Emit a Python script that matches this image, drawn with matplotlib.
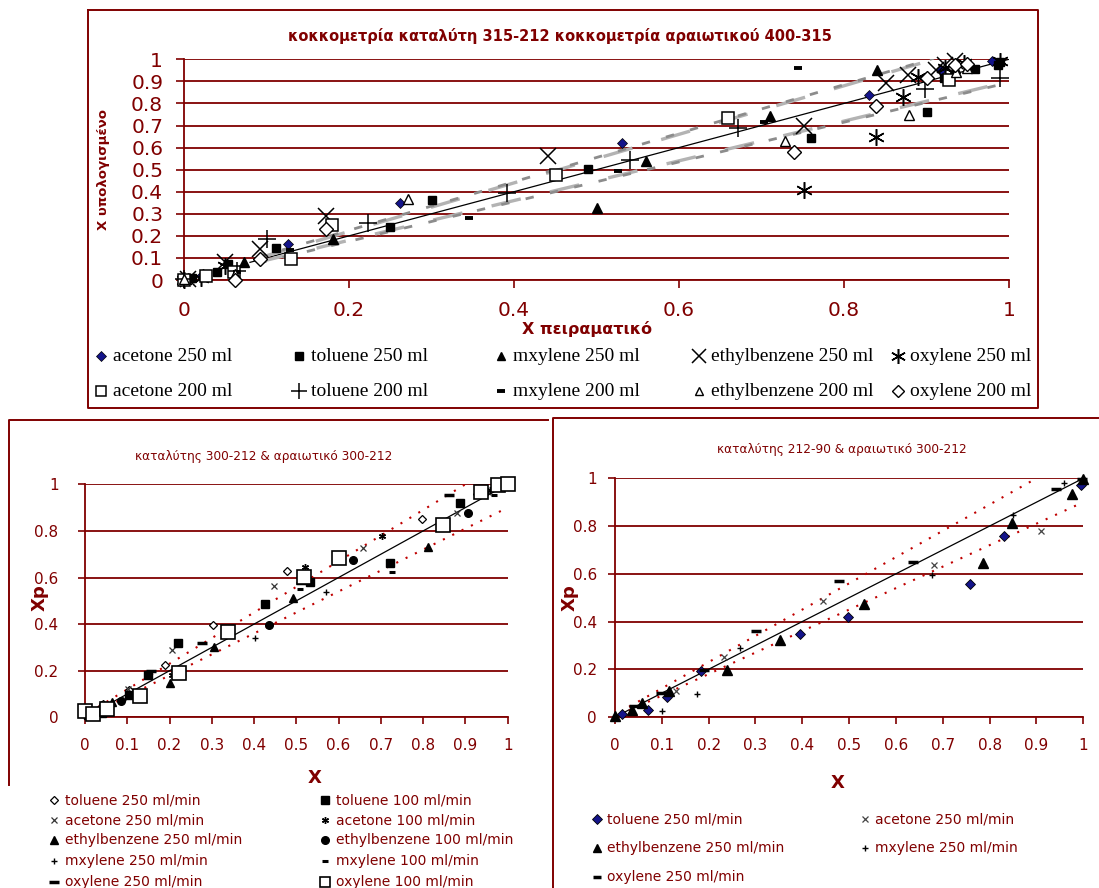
import matplotlib
matplotlib.use("Agg")
import matplotlib.pyplot as plt
import numpy as np

W, H = 1099, 888
DR = "#800000"
NAVY = "#14148a"

# ---------------- top panel: X experimental vs X calculated ----------------
top_labels = ["acetone 250 ml", "toluene 250 ml", "mxylene 250 ml",
              "ethylbenzene 250 ml", "oxylene 250 ml",
              "acetone 200 ml", "toluene 200 ml", "mxylene 200 ml",
              "ethylbenzene 200 ml", "oxylene 200 ml"]

ace250_x = [0.005, 0.02, 0.126, 0.262, 0.531, 0.830, 0.918, 0.979]
ace250_y = [0.01, 0.02, 0.162, 0.350, 0.621, 0.839, 0.952, 0.992]
tol250_x = [0.01, 0.04, 0.053, 0.112, 0.25, 0.301, 0.49, 0.76, 0.90, 0.921, 0.959, 0.987, 0.989]
tol250_y = [0.01, 0.035, 0.072, 0.147, 0.238, 0.362, 0.504, 0.644, 0.761, 0.914, 0.955, 0.974, 0.99]
mxy250_x = [0.023, 0.073, 0.18, 0.50, 0.56, 0.71, 0.84, 0.934]
mxy250_y = [0.027, 0.08, 0.185, 0.328, 0.541, 0.744, 0.950, 0.96]
eth250_x = [0.005, 0.05, 0.092, 0.172, 0.441, 0.752, 0.851, 0.878, 0.912, 0.923, 0.934]
eth250_y = [0.005, 0.08, 0.14, 0.29, 0.561, 0.70, 0.891, 0.929, 0.952, 0.974, 0.994]
oxy250_x = [0.0, 0.02, 0.05, 0.751, 0.839, 0.871, 0.89, 0.923, 0.945, 0.989]
oxy250_y = [0.0, 0.01, 0.065, 0.408, 0.65, 0.828, 0.92, 0.96, 0.982, 0.994]
ace200_x = [0.0, 0.027, 0.06, 0.13, 0.179, 0.451, 0.659, 0.927]
ace200_y = [0.0, 0.02, 0.035, 0.095, 0.248, 0.475, 0.736, 0.906]
tol200_x = [0.0, 0.064, 0.10, 0.223, 0.391, 0.54, 0.672, 0.898, 0.989]
tol200_y = [0.005, 0.042, 0.185, 0.26, 0.395, 0.543, 0.687, 0.864, 0.917]
mxy200_x = [0.064, 0.128, 0.345, 0.526, 0.703, 0.744]
mxy200_y = [0.035, 0.137, 0.283, 0.495, 0.717, 0.962]
eth200_x = [0.0, 0.062, 0.271, 0.729, 0.879, 0.936, 0.949]
eth200_y = [0.005, 0.027, 0.368, 0.631, 0.748, 0.944, 0.96]
oxy200_x = [0.062, 0.092, 0.172, 0.739, 0.839, 0.90, 0.934, 0.949]
oxy200_y = [0.0, 0.095, 0.23, 0.58, 0.79, 0.914, 0.974, 0.979]

# ---------------- bottom-left panel ----------------
bl_labels = ["toluene 250 ml/min", "acetone 250 ml/min", "ethylbenzene 250 ml/min",
             "mxylene 250 ml/min", "oxylene 250 ml/min",
             "toluene 100 ml/min", "acetone 100 ml/min", "ethylbenzene 100 ml/min",
             "mxylene 100 ml/min", "oxylene 100 ml/min"]

bl_tol250_x = [0.043, 0.105, 0.189, 0.302, 0.478, 0.797, 0.928]
bl_tol250_y = [0.057, 0.119, 0.226, 0.397, 0.626, 0.85, 0.959]
bl_ace250_x = [0.047, 0.101, 0.207, 0.446, 0.658, 0.879, 0.953]
bl_ace250_y = [0.05, 0.121, 0.289, 0.563, 0.728, 0.877, 0.966]
bl_eth250_x = [0.039, 0.064, 0.201, 0.305, 0.493, 0.811, 0.944]
bl_eth250_y = [0.051, 0.066, 0.147, 0.30, 0.511, 0.731, 0.976]
bl_mxy250_x = [0.014, 0.089, 0.402, 0.569]
bl_mxy250_y = [0.026, 0.076, 0.339, 0.537]
bl_oxy250_x = [0.155, 0.276, 0.512, 0.862]
bl_oxy250_y = [0.197, 0.32, 0.576, 0.954]
bl_tol100_x = [0.006, 0.04, 0.104, 0.149, 0.219, 0.226, 0.426, 0.532, 0.722, 0.887, 0.978, 0.998]
bl_tol100_y = [0.011, 0.02, 0.097, 0.18, 0.318, 0.186, 0.486, 0.582, 0.661, 0.918, 0.994, 1.0]
bl_ace100_x = [0.205, 0.52, 0.702, 0.957]
bl_ace100_y = [0.183, 0.647, 0.777, 0.976]
bl_eth100_x = [0.085, 0.105, 0.435, 0.633, 0.907, 0.982]
bl_eth100_y = [0.069, 0.097, 0.396, 0.675, 0.876, 0.994]
bl_mxy100_x = [0.509, 0.726, 0.968]
bl_mxy100_y = [0.549, 0.625, 0.954]
bl_oxy100_x = [0.0, 0.018, 0.051, 0.13, 0.222, 0.338, 0.519, 0.602, 0.848, 0.938, 0.976, 1.0]
bl_oxy100_y = [0.026, 0.014, 0.037, 0.09, 0.19, 0.365, 0.604, 0.682, 0.825, 0.966, 0.997, 1.0]

# ---------------- bottom-right panel ----------------
br_labels = ["toluene 250 ml/min", "acetone 250 ml/min", "ethylbenzene 250 ml/min",
             "mxylene 250 ml/min", "oxylene 250 ml/min"]

br_tol250_x = [0.015, 0.071, 0.111, 0.183, 0.394, 0.498, 0.759, 0.83, 0.996]
br_tol250_y = [0.014, 0.031, 0.084, 0.191, 0.349, 0.418, 0.557, 0.76, 0.972]
br_ace250_x = [0.131, 0.233, 0.444, 0.682, 0.909]
br_ace250_y = [0.11, 0.251, 0.487, 0.635, 0.781]
br_eth250_x = [0.0, 0.037, 0.058, 0.116, 0.24, 0.353, 0.532, 0.785, 0.848, 0.975, 1.0]
br_eth250_y = [0.003, 0.028, 0.059, 0.11, 0.195, 0.321, 0.474, 0.647, 0.812, 0.934, 0.997]
br_mxy250_x = [0.101, 0.175, 0.267, 0.676, 0.849, 0.958]
br_mxy250_y = [0.026, 0.096, 0.289, 0.595, 0.847, 0.982]
br_oxy250_x = [0.041, 0.099, 0.19, 0.302, 0.479, 0.637, 0.941, 0.997]
br_oxy250_y = [0.045, 0.10, 0.195, 0.362, 0.57, 0.648, 0.955, 0.997]

# reference lines: slope of the +/- bands
band_hi, band_lo = 1.1, 0.9


def fx(px):
    return px / W


def fy(py):
    return 1 - py / H


def axes_px(x0, x1, y1, y0):
    """axes from pixel corners: x at 0 and 1, y at 1 and 0"""
    return [fx(x0), fy(y0), (x1 - x0) / W, (y0 - y1) / H]


def style(ax, ystep, xstep, fs, tick_len):
    ax.set_xlim(0, 1)
    ax.set_ylim(0, 1)
    ax.set_facecolor("none")
    for s in ["top", "right"]:
        ax.spines[s].set_visible(False)
    for s in ["left", "bottom"]:
        ax.spines[s].set_color(DR)
        ax.spines[s].set_linewidth(1.3)
    yt = np.round(np.arange(0, 1.0001, ystep), 2)
    xt = np.round(np.arange(0, 1.0001, xstep), 2)
    ax.set_yticks(yt)
    ax.set_xticks(xt)
    ax.set_yticklabels([f"{v:g}" for v in yt])
    ax.set_xticklabels([f"{v:g}" for v in xt])
    ax.yaxis.grid(True, color=DR, lw=1.3)
    ax.set_axisbelow(True)
    ax.tick_params(axis="both", direction="out", length=tick_len, width=1.2,
                   color=DR, labelcolor=DR, labelsize=fs)


fig = plt.figure(figsize=(W / 100, H / 100), dpi=100)

# background overlay for frames, titles and legends
ov = fig.add_axes([0, 0, 1, 1], zorder=-1)
ov.set_xlim(0, W)
ov.set_ylim(H, 0)
ov.axis("off")
ov.plot([88, 1038, 1038, 88, 88], [10, 10, 408, 408, 10], color=DR, lw=1.4)
ov.plot([9, 9, 548], [785, 420, 420], color=DR, lw=1.4)
ov.plot([553, 553, 1099], [888, 418, 418], color=DR, lw=1.4)

# ---------------- top panel ----------------
ax = fig.add_axes(axes_px(184, 1009, 59.3, 280), zorder=2)
style(ax, 0.1, 0.2, 14.5, 6)
ax.tick_params(axis="y", pad=9)
ax.tick_params(axis="x", pad=9)

xs = np.linspace(0.09, 1.0, 50)
ax.plot([0.08, 1.0], [0.08, 1.0], color="black", lw=0.9, zorder=3)
xh = np.linspace(0.09, 1 / band_hi, 50)
ax.plot(xh, band_hi * xh, color="#b3b3b3", lw=2.4, dashes=(9, 9), zorder=3)
ax.plot(xh, band_hi * xh + 0.005, color="#8c8c8c", lw=2.0, dashes=(3, 6), zorder=3)
ax.plot(xs, band_lo * xs, color="#b3b3b3", lw=2.4, dashes=(9, 9), zorder=3)
ax.plot(xs, band_lo * xs - 0.005, color="#8c8c8c", lw=2.0, dashes=(3, 6), zorder=3)

top_series = [
    (ace250_x, ace250_y, dict(marker="D", ms=5.5, mfc=NAVY, mec="black", mew=0.5)),
    (tol250_x, tol250_y, dict(marker="s", ms=6, mfc="black", mec="black")),
    (mxy250_x, mxy250_y, dict(marker="^", ms=7, mfc="black", mec="black")),
    (eth250_x, eth250_y, dict(marker="x", ms=11, mec="black", mew=1.1)),
    (oxy250_x, oxy250_y, dict(marker=(6, 2, 0), ms=12, mec="black", mew=1.1)),
    (ace200_x, ace200_y, dict(marker="s", ms=8, mfc="white", mec="black", mew=1.1)),
    (tol200_x, tol200_y, dict(marker="+", ms=13, mec="black", mew=1.1)),
    (mxy200_x, mxy200_y, dict(marker="_", ms=6, mec="black", mew=2.8)),
    (eth200_x, eth200_y, dict(marker="^", ms=7, mfc="white", mec="black", mew=1.0)),
    (oxy200_x, oxy200_y, dict(marker="D", ms=7, mfc="white", mec="black", mew=1.0)),
]
for xv, yv, kw in top_series:
    ax.plot(xv, yv, ls="none", clip_on=False, zorder=4, **kw)

fig.text(fx(560), fy(36), "κοκκομετρία καταλύτη 315-212 κοκκομετρία αραιωτικού 400-315",
         ha="center", va="center", color=DR, fontsize=10.5, fontweight="bold")
fig.text(fx(104), fy(170), "X υπολογισμένο", rotation=90, ha="center", va="center",
         color=DR, fontsize=9.5, fontweight="bold")
fig.text(fx(587), fy(329), "X πειραματικό", ha="center", va="center",
         color=DR, fontsize=11.5, fontweight="bold")

row_y = [356, 391]
col_x = [101, 299, 501, 699, 898]
for i, (lab, (_, _, kw)) in enumerate(zip(top_labels, top_series)):
    r, c = divmod(i, 5)
    kw2 = dict(kw)
    kw2["ms"] = kw["ms"] * 0.9
    ov.plot([col_x[c]], [row_y[r]], ls="none", **kw2)
    ov.text(col_x[c] + 12, row_y[r], lab, ha="left", va="center",
            fontsize=14, family="Liberation Serif", color="black")

# ---------------- bottom-left panel ----------------
ax2 = fig.add_axes(axes_px(85, 507.7, 484.3, 717.3), zorder=2)
style(ax2, 0.2, 0.1, 11, 5)
ax2.tick_params(axis="x", pad=10)
ax2.tick_params(axis="y", pad=14)
ax2.plot([0, 1], [0, 1], color="black", lw=0.9, zorder=3)
xbh = np.linspace(0.03, (1 - 0.01) / band_hi, 40)
ax2.plot(xbh, band_hi * xbh + 0.01, color="#c00000", lw=1.5, ls=(0, (1, 4)), zorder=3)
xbl = np.linspace(0.03, 1.0, 40)
ax2.plot(xbl, band_lo * xbl, color="#c00000", lw=1.5, ls=(0, (1, 4)), zorder=3)

bl_series = [
    (bl_tol250_x, bl_tol250_y, dict(marker="D", ms=4.5, mfc="white", mec="black", mew=0.9)),
    (bl_ace250_x, bl_ace250_y, dict(marker="x", ms=4, mec="#333333", mew=0.9)),
    (bl_eth250_x, bl_eth250_y, dict(marker="^", ms=5.5, mfc="black", mec="black")),
    (bl_mxy250_x, bl_mxy250_y, dict(marker="+", ms=5, mec="black", mew=1.0)),
    (bl_oxy250_x, bl_oxy250_y, dict(marker="_", ms=7, mec="black", mew=2.5)),
    (bl_tol100_x, bl_tol100_y, dict(marker="s", ms=6, mfc="black", mec="black")),
    (bl_ace100_x, bl_ace100_y, dict(marker=(6, 2, 0), ms=5, mec="black", mew=1.0)),
    (bl_eth100_x, bl_eth100_y, dict(marker="o", ms=5.5, mfc="black", mec="black")),
    (bl_mxy100_x, bl_mxy100_y, dict(marker="_", ms=4, mec="black", mew=2.2)),
    (bl_oxy100_x, bl_oxy100_y, dict(marker="s", ms=10, mfc="white", mec="black", mew=1.2)),
]
for xv, yv, kw in bl_series:
    ax2.plot(xv, yv, ls="none", clip_on=False, zorder=4, **kw)

fig.text(fx(264), fy(456), "καταλύτης 300-212 & αραιωτικό 300-212",
         ha="center", va="center", color=DR, fontsize=8.7)
fig.text(fx(40), fy(598), "Xp", rotation=90, ha="center", va="center",
         color=DR, fontsize=13, fontweight="bold")
fig.text(fx(315), fy(778), "X", ha="center", va="center",
         color=DR, fontsize=13, fontweight="bold")

bl_rows = [800, 820, 840, 861, 882]
bl_cols = [54, 325]
for i, (lab, (_, _, kw)) in enumerate(zip(bl_labels, bl_series)):
    c, r = divmod(i, 5)
    kw2 = dict(kw)
    kw2["ms"] = min(kw["ms"], 7)
    ov.plot([bl_cols[c]], [bl_rows[r]], ls="none", **kw2)
    ov.text(bl_cols[c] + 11, bl_rows[r], lab, ha="left", va="center",
            fontsize=10, color=DR)

# ---------------- bottom-right panel ----------------
ax3 = fig.add_axes(axes_px(615, 1083.3, 478.3, 717), zorder=2)
style(ax3, 0.2, 0.1, 11, 5)
ax3.tick_params(axis="x", pad=10)
ax3.tick_params(axis="y", pad=8)
ax3.plot([0, 1], [0, 1], color="black", lw=0.9, zorder=3)
ax3.plot(xbh, band_hi * xbh + 0.01, color="#c00000", lw=1.5, ls=(0, (1, 4)), zorder=3)
ax3.plot(xbl, band_lo * xbl, color="#c00000", lw=1.5, ls=(0, (1, 4)), zorder=3)

br_series = [
    (br_tol250_x, br_tol250_y, dict(marker="D", ms=5.5, mfc=NAVY, mec="black", mew=0.6)),
    (br_ace250_x, br_ace250_y, dict(marker="x", ms=4, mec="#444444", mew=0.9)),
    (br_eth250_x, br_eth250_y, dict(marker="^", ms=7, mfc="black", mec="black")),
    (br_mxy250_x, br_mxy250_y, dict(marker="+", ms=5, mec="black", mew=1.0)),
    (br_oxy250_x, br_oxy250_y, dict(marker="_", ms=7, mec="black", mew=2.5)),
]
for xv, yv, kw in br_series:
    ax3.plot(xv, yv, ls="none", clip_on=False, zorder=4, **kw)

fig.text(fx(842), fy(449), "καταλύτης 212-90 & αραιωτικό 300-212",
         ha="center", va="center", color=DR, fontsize=8.7)
fig.text(fx(570), fy(598), "Xp", rotation=90, ha="center", va="center",
         color=DR, fontsize=13, fontweight="bold")
fig.text(fx(838), fy(783), "X", ha="center", va="center",
         color=DR, fontsize=13, fontweight="bold")

br_rows = [819, 848, 877]
br_cols = [597, 865]
for i, (lab, (_, _, kw)) in enumerate(zip(br_labels, br_series)):
    r, c = divmod(i, 2)
    kw2 = dict(kw)
    kw2["ms"] = min(kw["ms"], 6)
    ov.plot([br_cols[c]], [br_rows[r]], ls="none", **kw2)
    ov.text(br_cols[c] + 10, br_rows[r], lab, ha="left", va="center",
            fontsize=10, color=DR)

fig.savefig("out.png", dpi=100)
